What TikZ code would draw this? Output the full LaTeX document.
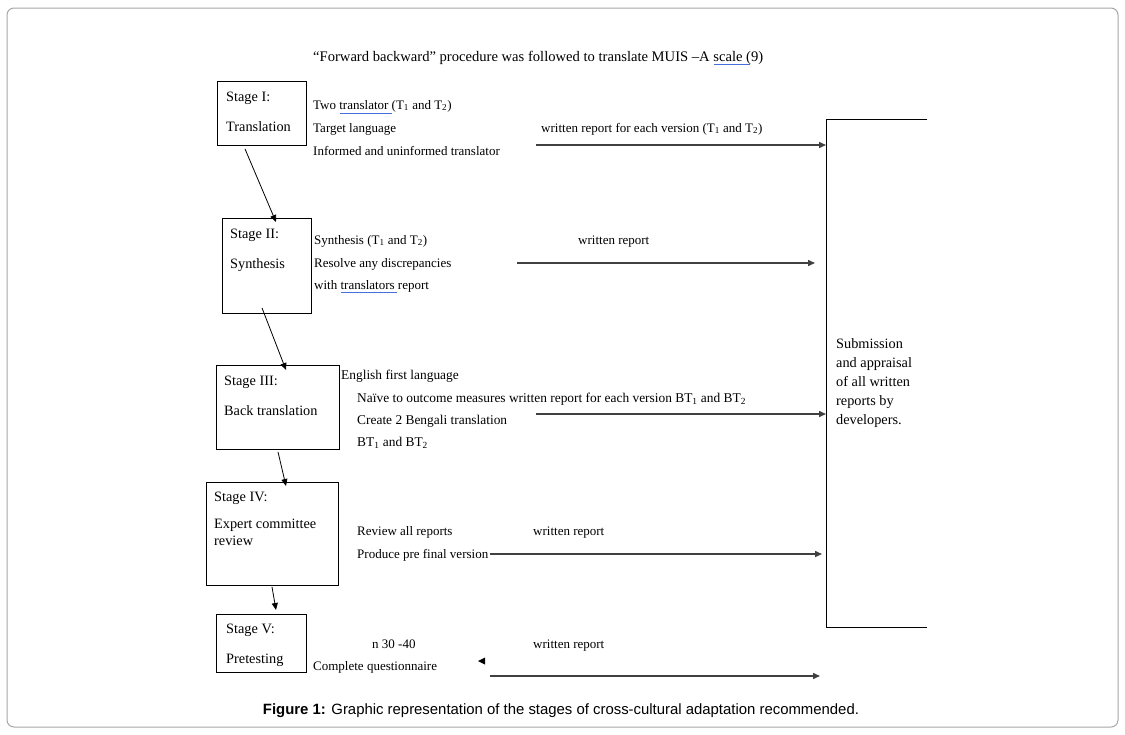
\documentclass[tikz,border=0pt]{standalone}
\usepackage{fontspec}
\setmainfont{Liberation Serif}
\newfontfamily\capfont{Liberation Sans}
\usetikzlibrary{arrows.meta,calc}
\begin{document}
\begin{tikzpicture}[x=1pt,y=-1pt,
  box/.style={draw=black,line width=0.9pt,minimum width=#1,inner sep=0,anchor=north west},
  lbl/.style={font=\fontsize{14.3}{16}\selectfont,inner sep=0,anchor=base west},
  txt/.style={font=\fontsize{13}{15}\selectfont,inner sep=0,anchor=base west},
  txtb/.style={font=\fontsize{13.4}{15}\selectfont,inner sep=0,anchor=base west},
  harr/.style={draw=black!75,line width=1.5pt,-{Triangle[length=7pt,width=6pt]}},
  varr/.style={draw=black,line width=0.8pt,-{Triangle[length=7pt,width=6pt]}},
  spell/.style={draw={rgb,255:red,70;green,110;blue,220},line width=0.9pt}]
\useasboundingbox (0,0) rectangle (1125,734);
\draw[black!35,line width=1pt,rounded corners=7] (7,8) rectangle (1118,727);

% title
\node[txt,font=\fontsize{14.6}{16}\selectfont] (title) at (313,61) {“Forward backward” procedure was followed to translate MUIS –A scale (9)};
\draw[spell] (714,64) -- (750,64);

% stage boxes
\node[box=89,minimum height=64] (s1) at (217,81) {};
\node[box=89,minimum height=95] (s2) at (222,218) {};
\node[box=123,minimum height=84] (s3) at (216,365) {};
\node[box=132,minimum height=103] (s4) at (206,482) {};
\node[box=90,minimum height=58] (s5) at (216,614) {};

% big box
\node[inner sep=0,minimum width=101,minimum height=508,anchor=north west] (sub) at (826,119) {};
\draw[black,line width=0.9pt] (sub.north east) -- (sub.north west) -- (sub.south west) -- (sub.south east);
\node[lbl,align=left,anchor=north west,font=\fontsize{14.3}{19.2}\selectfont] (subt) at (836,338) {Submission\\and appraisal\\of all written\\reports by\\developers.};

% stage labels
\node[lbl] (l1a) at (226,101) {Stage I:};
\node[lbl] (l1b) at (226,131) {Translation};
\node[lbl] (l2a) at (230,238) {Stage II:};
\node[lbl] (l2b) at (230,268) {Synthesis};
\node[lbl] (l3a) at (224,385) {Stage III:};
\node[lbl] (l3b) at (224,415) {Back translation};
\node[lbl] (l4a) at (214,501) {Stage IV:};
\node[lbl] (l4b) at (214,528) {Expert committee};
\node[lbl] (l4c) at (214,545) {review};
\node[lbl] (l5a) at (226,633) {Stage V:};
\node[lbl] (l5b) at (226,663) {Pretesting};

% stage I texts
\node[txt] (t1a) at (313,109) {Two translator (T\textsubscript{1} and T\textsubscript{2})};
\draw[spell] (340,113) -- (392,113);
\node[txt] (t1b) at (313,132) {Target language};
\node[txt] (t1c) at (313,155) {Informed and uninformed translator};
\node[txt] (w1) at (541,132) {written report for each version (T\textsubscript{1} and T\textsubscript{2})};

% stage II texts
\node[txt] (t2a) at (314,244) {Synthesis (T\textsubscript{1} and T\textsubscript{2})};
\node[txt] (t2b) at (314,267) {Resolve any discrepancies};
\node[txt] (t2c) at (314,289) {with translators report};
\draw[spell] (341,292) -- (397,292);
\node[txt] (w2) at (578,244) {written report};

% stage III texts
\node[txtb] (t3a) at (341,379) {English first language};
\node[txtb] (t3b) at (357,402) {Naïve to outcome measures written report for each version BT\textsubscript{1} and BT\textsubscript{2}};
\node[txtb] (t3c) at (357,424) {Create 2 Bengali translation};
\node[txtb] (t3d) at (357,446) {BT\textsubscript{1} and BT\textsubscript{2}};

% stage IV texts
\node[txt] (t4a) at (357,535) {Review all reports};
\node[txt] (t4b) at (357,558) {Produce pre final version};
\node[txt] (w4) at (533,535) {written report};

% stage V texts
\node[txt] (t5a) at (372,648) {n 30 -40};
\node[txt] (t5b) at (313,670) {Complete questionnaire};
\node[txt] (w5) at (533,648) {written report};
\fill (478,661) -- (485,657.5) -- (485,664.5) -- cycle;

% horizontal arrows
\coordinate (h1) at (536,145);
\coordinate (h2) at (517,263);
\coordinate (e2) at (815,263);
\coordinate (h3) at (536,414);
\coordinate (h4) at (490,554);
\coordinate (e4) at (822,554);
\coordinate (h5) at (490,676);
\coordinate (e5) at (820,676);
\draw[harr] (h1) -- (h1 -| sub.west);
\draw[harr] (h2) -- (e2);
\draw[harr] (h3) -- (h3 -| sub.west);
\draw[harr] (h4) -- (e4);
\draw[harr] (h5) -- (e5);

% stage arrows
\coordinate (v1) at ($(s1.south west)+(28,3)$);
\coordinate (v2) at ($(s2.south west)+(40,-6)$);
\coordinate (v3) at ($(s3.south west)+(62,2)$);
\coordinate (v4) at ($(s4.south west)+(66,1)$);
\draw[varr] (v1) -- ($(s2.north west)+(54,4)$);
\draw[varr] (v2) -- ($(s3.north west)+(70,5)$);
\draw[varr] (v3) -- ($(s4.north west)+(80,4)$);
\draw[varr] (v4) -- ($(s5.north west)+(60,-4)$);

% caption
\node[inner sep=0,font=\capfont\fontsize{14.9}{17}\selectfont] (cap) at (561,711) {\textbf{Figure 1:} Graphic representation of the stages of cross-cultural adaptation recommended.};
\end{tikzpicture}
\end{document}
